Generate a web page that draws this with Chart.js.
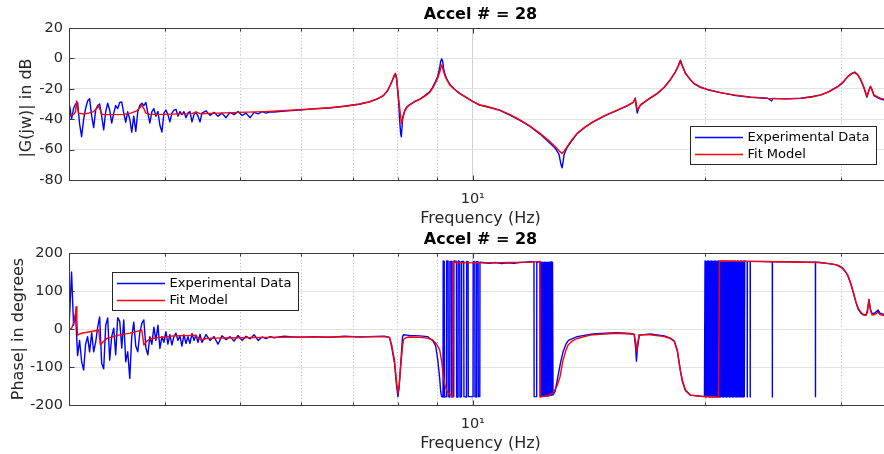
<!DOCTYPE html>
<html><head><meta charset="utf-8">
<script src="https://cdn.jsdelivr.net/npm/chart.js@4.4.0/dist/chart.umd.min.js"></script>
<style>
html,body{margin:0;padding:0;background:#fff;overflow:hidden;width:884px;height:454px;}
#wrap{position:relative;width:884px;height:454px;overflow:hidden;background:#fff;}
.pane{position:absolute;left:0;width:893px;height:229px;}
#p1{top:0}
#p2{top:225px}
canvas{display:block}
</style></head><body>
<div id="wrap">
<div class="pane" id="p1"><canvas id="c1" width="893" height="229"></canvas></div>
<div class="pane" id="p2"><canvas id="c2" width="893" height="229"></canvas></div>
</div>
<script>
// ---------- data (Hz, dB, degrees) ----------
const noiseFreq = [2.987,3.005,3.023,3.041,3.059,3.078,3.096,3.115,3.134,3.152,3.171,3.190,3.210,3.229,3.248,3.268,3.287,3.307,3.327,3.347,3.367,3.387,3.407,3.428,3.448,3.469,3.490,3.511,3.532,3.553,3.574,3.596,3.617,3.639,3.661,3.683,3.705,3.728,3.750,3.773,3.795,3.818,3.841,3.864,3.887,3.911,3.934,3.958,3.981,4.005,4.029,4.053,4.077,4.102,4.127,4.151,4.176,4.201,4.226,4.252,4.277,4.303,4.329,4.355,4.381,4.407,4.434,4.460,4.514,4.568,4.623,4.678,4.734,4.791,4.849,4.907,4.966,5.026,5.086,5.148,5.209,5.272,5.335,5.400,5.465];

const magExpFreq = noiseFreq.concat([5.53,5.70,5.96,6.23,6.52,6.82,7.13,7.35,7.53,7.66,7.75,7.82,7.87,7.92,7.94,7.97,8.015,8.039,8.063,8.079,8.099,8.111,8.16,8.21,8.28,8.41,8.54,8.66,8.79,8.87,8.95,9.006,9.06,9.087,9.114,9.142,9.169,9.196,9.252,9.336,9.476,9.619,9.764,10.0,10.2,10.46,10.84,11.17,11.51,11.86,12.22,12.51,12.78,12.93,13.01,13.05,13.09,13.13,13.25,13.44,13.65,13.98,14.32,14.84,15.38,15.85,16.13,16.23,16.28,16.33,16.38,16.48,16.87,17.33,17.70,18.02,18.29,18.46,18.57,18.68,18.85,19.13,19.36,19.71,20.13,20.93,21.76,22.89,24.09,24.38,24.45,25.42,26.59,27.56,28.23,28.91,29.70,30.14,30.59,30.96,31.24,31.53,31.81,32.10,32.39,32.58,32.73,32.88,33.07,33.47,33.77,34.17,34.9]);
const magExp = [-29,-31,-40,-33,-30,-29,-43,-51.5,-40,-33,-28,-26.5,-38,-45.5,-34,-31,-30,-38,-47,-35,-29.5,-34,-42.5,-36,-31,-33,-29,-28.7,-36,-42,-35,-40,-48.5,-38,-48,-35,-31,-29.5,-31,-29,-36,-42.5,-35,-33,-38,-35,-44,-48.5,-36,-34,-37,-41.8,-36,-34,-33.5,-38,-35,-37,-35,-39,-36,-35,-41.8,-37,-35.5,-38,-41.8,
-36,-34.5,-37.5,-35.5,-38,-36,-39,-35.5,-37,-35,-37.5,-36,-39,-35.5,-36.5,-35,-36,-35.2,
-35.3,-34.6,-34,-33.2,-32.6,-31.5,-30.2,-28.6,-26.6,-24.5,-21.5,-17.5,-14.5,-11,-10.5,-14,-28,-40,-49,-51.5,-45,-39,-34.5,-32,-30.5,-28.3,-26.8,-24.6,-22,-19,-15,-12,-6,-2,-0.3,-2,-7,-10,-13.5,-17,-20.5,-23.2,-25.2,-28.3,-30.7,-32,-34.2,-37.3,-40.8,-44.8,-49.8,-54.5,-59,-63,-70,-72,-68,-63,-58.5,-54,-49.5,-45.3,-41.8,-37.6,-34.2,-31.2,-29,-26,-32,-36,-33.5,-30.7,-27,-23.2,-19,-14,-9,-4.5,-1.2,-4.8,-9.8,-14,-16.8,-19,-20.6,-22.5,-24.2,-25.6,-26.2,-28,-26.3,-26.6,-26.2,-25.1,-24,-21.8,-18.4,-15.8,-12,-9.8,-9.0,-11,-14.5,-19.5,-25.5,-21,-18.3,-20.8,-24.5,-26,-26.8,-27.5,-28];

const magFitFreq = [2.987,3.041,3.059,3.069,3.078,3.087,3.134,3.181,3.229,3.258,3.278,3.287,3.307,3.327,3.428,3.532,3.607,3.672,3.705,3.728,3.750,3.773,3.807,3.981,4.189,4.329,4.381,4.434,4.582,4.98,5.37,5.96,6.52,6.82,7.13,7.35,7.53,7.66,7.75,7.82,7.87,7.92,7.94,7.97,8.015,8.063,8.087,8.111,8.16,8.21,8.28,8.41,8.54,8.66,8.79,8.87,8.95,9.006,9.06,9.087,9.114,9.142,9.169,9.196,9.252,9.336,9.476,9.619,9.764,10.0,10.2,10.46,10.84,11.17,11.51,11.86,12.22,12.51,12.78,12.93,13.05,13.13,13.25,13.44,13.65,13.98,14.32,14.84,15.38,15.85,16.13,16.23,16.28,16.33,16.38,16.48,16.87,17.33,17.70,18.02,18.29,18.46,18.57,18.68,18.85,19.13,19.36,19.71,20.13,20.93,21.76,22.89,24.09,25.42,26.59,27.56,28.23,28.91,29.70,30.14,30.59,30.96,31.24,31.53,31.81,32.10,32.39,32.58,32.73,32.88,33.07,33.47,33.77,34.17,34.9];
const magFit = [-37.5,-37,-35,-28,-33,-36,-36.6,-36,-35,-33,-31.3,-33,-36.5,-37,-37,-36.8,-36,-34.5,-32.5,-30.7,-33,-36,-36.7,-36.8,-36.5,-36.3,-35.2,-36.4,-36.2,-35.5,-35,-33.8,-32.5,-31.5,-30,-28.5,-26.5,-24.5,-21.5,-17.5,-14,-10.5,-9.8,-13,-26.3,-38,-42.7,-40,-35,-32.5,-30.7,-28.5,-27,-25,-22.5,-19.7,-16,-13,-9,-6.5,-4.3,-6,-9,-11,-14,-17.5,-20.5,-23,-25,-28.5,-30.5,-31.8,-34,-37,-40.5,-44.5,-49.3,-53.5,-58,-60.8,-62.5,-61,-58,-53.5,-49.3,-45,-41.6,-37.5,-34,-31,-29,-26.5,-30,-34,-33,-30.7,-27,-23,-19,-14.2,-9,-5,-1.8,-5,-9.8,-14,-16.6,-18.8,-20.4,-22.5,-24,-25.5,-26.3,-26.6,-26.3,-25.2,-24,-22,-18.6,-16,-12,-10,-9.4,-11,-14.2,-19,-25.2,-21,-18.6,-20.5,-24,-25.5,-26.3,-27,-28];

const phExpFreq = noiseFreq.concat([5.53,5.70,5.96,6.23,6.52,6.82,7.13,7.68,7.80,7.848,7.918,7.967,8.0,8.027,8.079,8.111,8.136,8.21,8.28,8.54,8.741,8.794,8.873,8.953,9.006,9.06,9.087,9.114,
9.150,9.155,9.183,9.188,9.244,9.249,9.289,9.294,9.336,9.341,9.383,9.388,9.448,9.453,9.524,9.529,9.570,9.575,9.619,9.624,9.668,9.673,9.734,9.739,9.813,9.818,9.861,9.866,10.009,10.014,10.060,10.065,10.111,10.116,10.160,10.165,10.211,10.216,
10.3,10.5,10.7,10.9,11.1,11.3,11.5,11.7,11.86,
12.001,12.006,12.098,12.103,12.218,12.223,12.243,12.263,12.283,12.303,12.323,12.343,12.363,12.383,12.403,12.423,12.443,12.463,12.483,12.503,12.523,12.543,12.563,12.583,12.603,12.623,12.643,12.663,12.683,12.703,12.715,
12.778,12.85,12.93,13.0,13.09,13.2,13.3,13.44,13.65,14.19,14.62,15.38,15.99,16.18,16.25,16.29,16.33,16.43,16.97,17.70,18.02,18.24,18.40,18.57,18.68,18.85,19.13,19.71,
19.95,19.985,20.02,20.055,20.09,20.125,20.16,20.195,20.23,20.265,20.30,20.335,20.37,20.405,20.44,20.475,20.51,20.545,20.58,20.615,20.65,20.685,20.72,20.755,20.79,20.825,20.86,20.895,20.93,20.965,21.00,21.035,21.07,21.105,21.14,21.175,21.21,21.245,21.28,21.315,21.35,21.385,21.42,21.455,21.49,21.525,21.56,21.595,21.63,21.665,21.70,21.735,21.77,21.805,21.84,21.875,21.91,21.945,21.98,22.015,22.05,22.085,22.12,22.155,22.19,22.225,22.26,22.295,22.33,22.365,22.40,22.435,22.47,22.50,
22.60,22.665,22.67,22.675,22.865,22.87,22.875,23.5,24.425,24.43,24.435,25.5,27.0,27.775,27.78,27.785,28.2,28.9,29.4,29.7,30.1,30.4,30.6,30.87,31.09,31.34,31.56,31.81,32.04,32.3,32.44,32.58,32.73,32.88,33.17,33.47,33.67,34.17,34.9]);
const phExp = [-85,35,150,10,40,-70,-30,-85,-108,-40,-20,-60,-10,-60,-35,5,32,-90,-105,10,29,-82,-20,2,-68,30,20,-50,24,-86,-60,-130,-20,18,-45,-60,-10,15,24,-50,-68,-20,-40,5,-30,10,-51,-20,-35,-7,-40,-15,-42,-20,-11,-30,-18,-45,-15,-38,-20,-38,-12,-30,-16,-35,-14,
-35,-15,-30,-20,-40,-18,-28,-20,-32,-17,-30,-19,-26,-15,-30,-21,-25,-20,
-23,-19,-22,-20,-22,-19,-21,-19,-22,-45,-90,-150,-178,-155,-70,-20,-15,-16,-17,-18,-20,-25,-30,-45,-80,-130,-165,-178,
-179,179,178,-179,-178,179,179,-178,-179,178,178,-179,-178,179,178,-179,-179,179,177,-179,-178,178,178,-178,-179,178,177,-178,-178,177,178,-178,-179,177,177,-178,-178,176,
175,173,175,172,174,173,175,176,177,
177,-178,-178,176,177,-178,176,-178,176,-177,175,-178,176,-177,176,-177,175,-176,176,-177,175,-176,176,-175,176,-175,177,-174,176,-173,-172,
-165,-140,-110,-85,-60,-40,-30,-26,-20,-14,-12,-10,-12,-14,-50,-85,-55,-16,-13,-18,-24,-32,-58,-110,-138,-162,-174,-177,
-178,179,-179,178,-179,179,-178,179,-179,178,-179,179,-178,179,-179,178,-179,179,-178,179,-179,178,-179,179,-178,179,-179,178,-179,179,-178,179,-179,178,-179,179,-178,179,-179,178,-179,179,-178,179,-179,178,-179,179,-178,179,-179,178,-179,179,-178,179,-179,178,-179,179,-178,179,-179,178,-179,179,-178,179,-179,178,-179,179,-178,179,
178,178,-179,178,178,-179,178,178,177,-179,177,177,176,176,-178,176,175,172,170,167,160,150,140,118,96,70,52,42,38,37,50,78,52,40,42,50,42,37,36];

const phFitFreq = [2.987,3.005,3.023,3.041,3.059,3.064,3.071,3.078,3.106,3.181,3.258,3.278,3.294,3.317,3.357,3.479,3.60,3.694,3.728,3.750,3.784,3.830,3.981,4.102,4.290,4.355,4.421,4.447,4.514,4.623,4.98,5.45,5.96,6.52,7.13,7.68,7.80,7.848,7.918,7.967,8.0,8.027,8.079,8.111,8.136,8.21,8.28,8.54,8.741,8.873,8.98,9.06,9.114,9.15,9.196,9.244,9.307,9.383,9.408,9.414,9.476,9.911,10.52,11.17,11.86,12.218,12.229,12.291,12.514,12.70,12.854,12.97,13.087,13.205,13.285,13.444,13.646,14.187,14.618,15.381,15.991,16.18,16.255,16.294,16.352,16.425,16.975,17.70,18.02,18.237,18.40,18.566,18.678,18.85,19.13,19.71,20.80,20.87,22.23,25.04,27.98,28.91,29.70,30.14,30.59,30.87,31.09,31.34,31.56,31.81,32.04,32.30,32.44,32.58,32.73,32.88,33.17,33.47,33.67,34.17,34.9];
const phFit = [-5,-2,2,15,40,59,20,-16,-12,-8,-4,-2,-42,-35,-25,-16,-11,-5,-3,-42,-32,-25,-21,-18,-17,-16,-24,-29,-25,-24,-23,-22,-21,-21,-20,-20,-22,-40,-82,-140,-169,-150,-82,-45,-27,-22,-21,-22,-24,-29,-40,-55,-85,-117,-145,-160,-170,-176,-178,178,175,174,174,175,176,178,-179,-178,-175,-169,-150,-126,-82,-55,-42,-32,-25,-16,-14,-11,-13,-14,-35,-60,-35,-15,-15,-20,-25,-33,-55,-108,-135,-160,-174,-177,-179,179,178,177,175,172,168,160,142,120,98,72,54,44,37,36,45,76,50,37,38,44,38,35,34];

const freqTickValues = [4,5,6,7,8,9,10,20,30];
const freqTickLabels = ['','','','','','','10\u00B9','',''];
const seriesLabels = ['Experimental Data','Fit Model'];
const seriesColors = ['#0000ff','#ff0000'];
const plotTitle = 'Accel # = 28';

// ---------- styling ----------
const FONT = '"DejaVu Sans", sans-serif';
const TXT = '#262626';
const toXY = (f, v) => f.map((x, i) => ({x: x, y: v[i]}));

const framePlugin = {
  id: 'frame',
  afterDatasetsDraw(chart) {
    const {ctx, chartArea: a, scales: {x, y}} = chart;
    ctx.save();
    ctx.strokeStyle = '#3a3a3a';
    ctx.lineWidth = 1;
    const L = Math.round(a.left) + 0.5, T = Math.round(a.top) + 0.5;
    const R = Math.round(a.right) + 0.5, B = Math.round(a.bottom) + 0.5;
    ctx.strokeRect(L, T, R - L, B - T);
    ctx.beginPath();
    x.ticks.forEach(t => {
      const px = Math.round(x.getPixelForValue(t.value)) + 0.5;
      const len = t.value === 10 ? 5 : 3;
      ctx.moveTo(px, B); ctx.lineTo(px, B - len);
      ctx.moveTo(px, T); ctx.lineTo(px, T + len);
    });
    y.ticks.forEach(t => {
      const py = Math.round(y.getPixelForValue(t.value)) + 0.5;
      ctx.moveTo(L, py); ctx.lineTo(L + 5, py);
      ctx.moveTo(R, py); ctx.lineTo(R - 5, py);
    });
    ctx.stroke();
    ctx.restore();
  }
};

const boxLegend = {
  id: 'boxLegend',
  afterDatasetsDraw(chart, args, o) {
    const ctx = chart.ctx;
    ctx.save();
    ctx.fillStyle = '#ffffff';
    ctx.fillRect(o.x, o.y, o.w, o.h);
    ctx.strokeStyle = '#262626';
    ctx.lineWidth = 1;
    ctx.strokeRect(o.x + 0.5, o.y + 0.5, o.w, o.h);
    ctx.font = '13px ' + FONT;
    ctx.textBaseline = 'middle';
    ctx.textAlign = 'left';
    seriesLabels.forEach((lab, i) => {
      const ly = Math.round(o.y + 11 + i * 17) + 0.5;
      ctx.strokeStyle = seriesColors[i];
      ctx.lineWidth = 1.3;
      ctx.beginPath(); ctx.moveTo(o.x + 5, ly); ctx.lineTo(o.x + 53, ly); ctx.stroke();
      ctx.fillStyle = '#000000';
      ctx.fillText(lab, o.x + 57.5, ly);
    });
    ctx.restore();
  }
};

function makeChart(id, cfg) {
  return new Chart(document.getElementById(id), {
    type: 'line',
    data: {
      datasets: [
        {label: seriesLabels[0], data: toXY(cfg.expF, cfg.expV), borderColor: seriesColors[0], borderWidth: 1.4,
         borderDash: [100000, 0], order: 1},
        {label: seriesLabels[1], data: toXY(cfg.fitF, cfg.fitV), borderColor: seriesColors[1], borderWidth: 1.4, order: 0}
      ]
    },
    options: {
      responsive: false, animation: false, parsing: false,
      layout: {padding: {left: 0, right: 1, top: 0, bottom: 0}},
      elements: {point: {radius: 0}, line: {tension: 0, borderJoinStyle: 'round', fill: false}},
      plugins: {
        legend: {display: false},
        tooltip: {enabled: false},
        title: {display: true, fullSize: false, text: plotTitle, color: '#000',
                font: {family: FONT, size: 16, weight: 'bold'}, padding: {top: 5.4, bottom: 3.4}},
        boxLegend: cfg.legend
      },
      scales: {
        x: {
          type: 'logarithmic', min: 3.0, max: 34.9,
          afterBuildTicks: s => { s.ticks = freqTickValues.map(v => ({value: v})); },
          afterFit: s => { s.height = 49; },
          ticks: {callback: (v, i) => freqTickLabels[i], autoSkip: false, maxRotation: 0, minRotation: 0,
                  padding: 11, color: TXT, font: {family: FONT, size: 14.5}},
          grid: {drawTicks: false, lineWidth: 1,
                 color: c => (c.tick && c.tick.value === 10) ? '#d2d2d2' : '#b4b4b4'},
          border: {display: false, dash: c => (c.tick && c.tick.value !== 10) ? [1, 2.3] : []},
          title: {display: true, text: 'Frequency (Hz)', color: TXT, font: {family: FONT, size: 16},
                  padding: {top: 0, bottom: 1}}
        },
        y: {
          min: cfg.ymin, max: cfg.ymax,
          afterFit: s => { s.width = 69; },
          ticks: {stepSize: cfg.step, padding: 6, color: TXT, font: {family: FONT, size: 14.5}},
          grid: {drawTicks: false, color: '#e2e2e2', lineWidth: 1},
          border: {display: false},
          title: {display: true, text: cfg.ylabel, color: TXT, font: {family: FONT, size: 16},
                  padding: {top: cfg.ytp, bottom: 0}}
        }
      }
    },
    plugins: [framePlugin, boxLegend]
  });
}

makeChart('c1', {expF: magExpFreq, expV: magExp, fitF: magFitFreq, fitV: magFit,
  ymin: -80, ymax: 20, step: 20, ylabel: '|G(jw)| in dB\u2002', ytp: 17.4,
  legend: {x: 690, y: 126, w: 186, h: 38}});
makeChart('c2', {expF: phExpFreq, expV: phExp, fitF: phFitFreq, fitV: phFit,
  ymin: -200, ymax: 200, step: 100, ylabel: 'Phase| in degrees', ytp: 8.9,
  legend: {x: 112, y: 47, w: 186, h: 38}});
</script>
</body></html>
